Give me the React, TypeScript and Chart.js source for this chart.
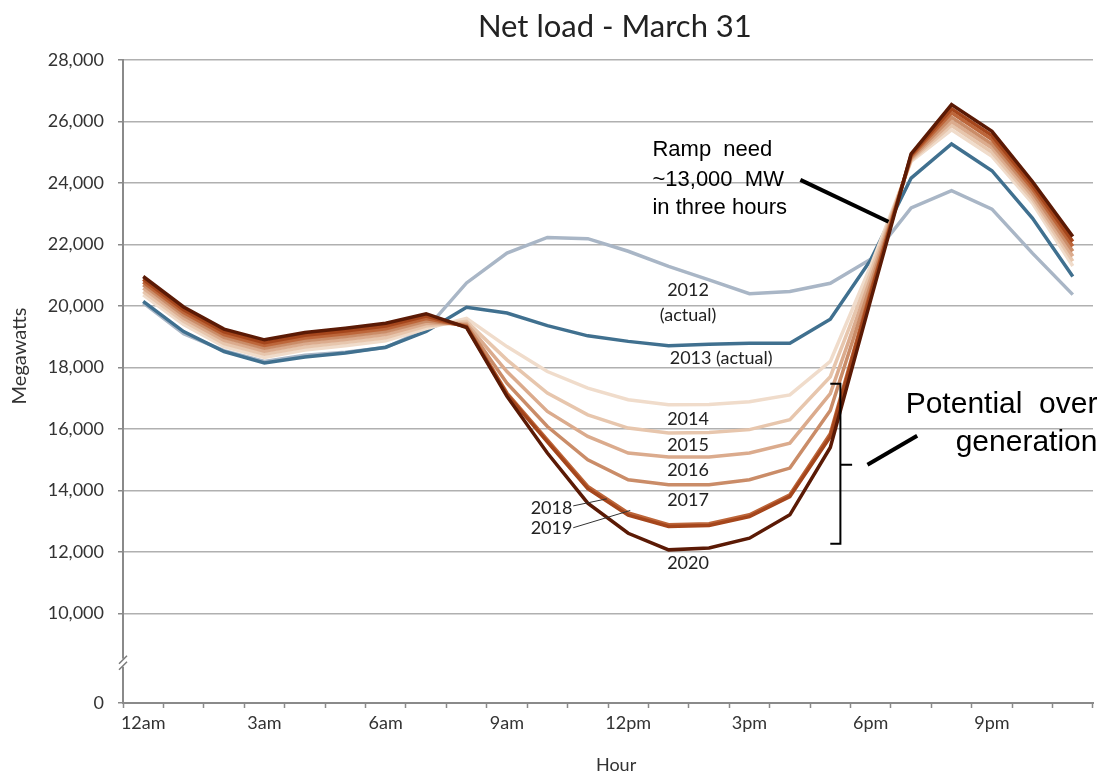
import React, { useEffect, useRef } from 'react';
import { Chart, registerables } from 'chart.js';

Chart.register(...registerables);

// ---------- data ----------
const HOURS = [
  '12am', '1am', '2am', '3am', '4am', '5am', '6am', '7am', '8am', '9am', '10am', '11am',
  '12pm', '1pm', '2pm', '3pm', '4pm', '5pm', '6pm', '7pm', '8pm', '9pm', '10pm', '11pm',
];
const Y_TICK_VALUES = [0, 10000, 12000, 14000, 16000, 18000, 20000, 22000, 24000, 26000, 28000];
const Y_FLOOR = 7090; // axis is broken: "0" is shown at this position
const Y_MAX = 28000;

const LOAD_2012 = [20100, 19100, 18550, 18200, 18400, 18500, 18650, 19250, 20750, 21720, 22230, 22190,
  21780, 21290, 20850, 20400, 20470, 20740, 21520, 23190, 23750, 23150, 21720, 20370];
const LOAD_2013 = [20150, 19170, 18520, 18150, 18340, 18470, 18660, 19170, 19960, 19770, 19360, 19030,
  18850, 18710, 18760, 18790, 18790, 19570, 21500, 24160, 25270, 24400, 22860, 20960];
const LOAD_2014 = [20360, 19400, 18680, 18330, 18570, 18710, 18870, 19270, 19600, 18680, 17870, 17330,
  16950, 16790, 16800, 16890, 17110, 18200, 21300, 24700, 25730, 24870, 23350, 21300];
const LOAD_2015 = [20470, 19500, 18780, 18430, 18670, 18810, 18970, 19350, 19500, 18250, 17170, 16460,
  16030, 15870, 15890, 15980, 16300, 17700, 21100, 24740, 25870, 25000, 23470, 21460];
const LOAD_2016 = [20580, 19600, 18880, 18530, 18770, 18910, 19070, 19430, 19430, 17870, 16570, 15760,
  15220, 15090, 15090, 15220, 15540, 17150, 20900, 24780, 26000, 25140, 23580, 21620];
const LOAD_2017 = [20690, 19700, 18980, 18630, 18870, 19010, 19170, 19510, 19380, 17490, 16080, 15000,
  14350, 14190, 14190, 14350, 14730, 16600, 20700, 24820, 26140, 25270, 23700, 21780];
const LOAD_2018 = [20780, 19790, 19070, 18720, 18960, 19100, 19260, 19590, 19340, 17170, 15650, 14130,
  13270, 12890, 12920, 13210, 13860, 15850, 20500, 24870, 26280, 25410, 23820, 21940];
const LOAD_2019 = [20870, 19880, 19160, 18810, 19050, 19190, 19350, 19670, 19320, 17120, 15580, 14060,
  13200, 12830, 12860, 13150, 13800, 15750, 20400, 24910, 26410, 25540, 23930, 22100];
const LOAD_2020 = [20960, 19970, 19250, 18900, 19140, 19280, 19440, 19750, 19300, 17060, 15220, 13590,
  12610, 12070, 12130, 12450, 13210, 15400, 20200, 24950, 26550, 25680, 24050, 22260];

const SERIES_NAMES = ['2012', '2013', '2014', '2015', '2016', '2017', '2018', '2019', '2020'];
const SERIES_VALUES = [LOAD_2012, LOAD_2013, LOAD_2014, LOAD_2015, LOAD_2016, LOAD_2017, LOAD_2018, LOAD_2019, LOAD_2020];
const SERIES_COLORS = ['#a9b6c6', '#40708f', '#f0dccb', '#e7c6ad', '#dbab8d', '#ca8c68', '#bd663a', '#a5461c', '#5b1a05'];

// ---------- annotations (hour index, MW) ----------
const YEAR_LABELS: { text: string; h: number; v: number; align: CanvasTextAlign }[] = [
  { text: '2012', h: 13.48, v: 20530, align: 'center' },
  { text: '(actual)', h: 13.48, v: 19690, align: 'center' },
  { text: '2013 (actual)', h: 14.3, v: 18290, align: 'center' },
  { text: '2014', h: 13.48, v: 16330, align: 'center' },
  { text: '2015', h: 13.48, v: 15490, align: 'center' },
  { text: '2016', h: 13.48, v: 14670, align: 'center' },
  { text: '2017', h: 13.48, v: 13700, align: 'center' },
  { text: '2018', h: 10.62, v: 13440, align: 'right' },
  { text: '2019', h: 10.62, v: 12760, align: 'right' },
  { text: '2020', h: 13.48, v: 11650, align: 'center' },
];
const THIN_LEADERS = [
  { h1: 10.64, v1: 13500, h2: 11.47, v2: 13730 },
  { h1: 10.64, v1: 12790, h2: 12.05, v2: 13350 },
];

const FONT = 'Lato, "Noto Sans", sans-serif';
const ARIAL = '"Liberation Sans", Arial, sans-serif';

const annotationPlugin = {
  id: 'duckAnnotations',
  afterDraw(chart: any) {
    const ctx: CanvasRenderingContext2D = chart.ctx;
    const xs = chart.scales.x;
    const ys = chart.scales.y;
    const area = chart.chartArea;
    const X = (h: number) => xs.getPixelForValue(h);
    const Y = (v: number) => ys.getPixelForValue(v);
    ctx.save();

    // title
    ctx.fillStyle = '#222';
    ctx.font = `31px ${FONT}`;
    ctx.textAlign = 'center';
    ctx.textBaseline = 'middle';
    ctx.fillText('Net load - March 31', X(11.67), 27);

    // axis titles
    ctx.font = `18px ${FONT}`;
    ctx.fillStyle = '#333';
    ctx.fillText('Hour', X(11.7), 765);
    ctx.save();
    ctx.translate(20, 356);
    ctx.rotate(-Math.PI / 2);
    ctx.font = `20px ${FONT}`;
    ctx.fillText('Megawatts', 0, 0);
    ctx.restore();

    // axis break
    const yb = Y(8400);
    const xb = area.left;
    ctx.fillStyle = '#fff';
    ctx.fillRect(xb - 3, yb - 4, 6, 8);
    ctx.strokeStyle = '#7a7a7a';
    ctx.lineWidth = 1.5;
    ctx.beginPath();
    ctx.moveTo(xb - 4, yb + 1);
    ctx.lineTo(xb + 4, yb - 7);
    ctx.moveTo(xb - 4, yb + 7);
    ctx.lineTo(xb + 4, yb - 1);
    ctx.stroke();

    // year labels
    ctx.fillStyle = '#222';
    ctx.font = `18px ${FONT}`;
    ctx.textBaseline = 'middle';
    for (const l of YEAR_LABELS) {
      ctx.textAlign = l.align;
      ctx.fillText(l.text, X(l.h), Y(l.v));
    }
    ctx.strokeStyle = '#333';
    ctx.lineWidth = 1;
    for (const s of THIN_LEADERS) {
      ctx.beginPath();
      ctx.moveTo(X(s.h1), Y(s.v1));
      ctx.lineTo(X(s.h2), Y(s.v2));
      ctx.stroke();
    }

    // ramp annotation
    ctx.fillStyle = '#000';
    ctx.font = `22px ${ARIAL}`;
    ctx.textAlign = 'left';
    ctx.fillText('Ramp  need', X(12.6), Y(25080));
    ctx.fillText('~13,000  MW', X(12.6), Y(24100));
    ctx.fillText('in three hours', X(12.6), Y(23190));
    ctx.strokeStyle = '#000';
    ctx.lineWidth = 4;
    ctx.beginPath();
    ctx.moveTo(X(16.26), Y(24100));
    ctx.lineTo(X(18.44), Y(22740));
    ctx.stroke();

    // over-generation annotation
    ctx.font = `30px ${ARIAL}`;
    ctx.textAlign = 'right';
    ctx.fillText('Potential  over', X(23.61), Y(16790));
    ctx.fillText('generation', X(23.61), Y(15550));
    ctx.beginPath();
    ctx.moveTo(X(17.92), Y(14840));
    ctx.lineTo(X(19.15), Y(15780));
    ctx.stroke();

    // bracket
    ctx.lineWidth = 2;
    ctx.beginPath();
    ctx.moveTo(X(17.0), Y(17470));
    ctx.lineTo(X(17.25), Y(17470));
    ctx.lineTo(X(17.25), Y(12270));
    ctx.lineTo(X(17.0), Y(12270));
    ctx.moveTo(X(17.25), Y(14840));
    ctx.lineTo(X(17.54), Y(14840));
    ctx.stroke();

    ctx.restore();
  },
};

export default function App() {
  const ref = useRef<HTMLCanvasElement | null>(null);
  useEffect(() => {
    if (!ref.current) return;
    const chart = new Chart(ref.current, {
      type: 'line',
      data: {
        labels: HOURS,
        datasets: SERIES_NAMES.map((name, i) => ({
          label: name,
          data: SERIES_VALUES[i],
          borderColor: SERIES_COLORS[i],
          backgroundColor: SERIES_COLORS[i],
          borderWidth: 3.5,
          pointRadius: 0,
          tension: 0,
          fill: false,
          order: SERIES_NAMES.length - i,
        })),
      },
      options: {
        responsive: false,
        animation: false,
        maintainAspectRatio: false,
        layout: { padding: { left: 0, top: 60, right: 5, bottom: 0 } },
        plugins: { legend: { display: false }, title: { display: false }, tooltip: { enabled: false } },
        scales: {
          x: {
            type: 'category',
            offset: true,
            grid: {
              offset: true,
              drawOnChartArea: false,
              drawTicks: true,
              tickLength: 5,
              tickColor: '#8a8a8a',
              tickWidth: 1.5,
            },
            border: { display: true, color: '#8a8a8a', width: 2 },
            ticks: {
              autoSkip: false,
              maxRotation: 0,
              padding: 4,
              color: '#333',
              font: { family: FONT, size: 18 },
              callback: (_v: any, i: number) => (i % 3 === 0 ? HOURS[i] : ''),
            },
            afterFit: (scale: any) => { scale.height = 74; },
          },
          y: {
            type: 'linear',
            min: Y_FLOOR,
            max: Y_MAX,
            afterBuildTicks: (scale: any) => {
              scale.ticks = Y_TICK_VALUES.map((v) => ({ value: v === 0 ? Y_FLOOR : v }));
            },
            grid: {
              color: (c: any) => (c.tick && c.tick.value === Y_FLOOR ? 'rgba(0,0,0,0)' : '#b0b0b0'),
              lineWidth: 1.5,
              tickLength: 5,
              tickColor: '#8a8a8a',
            },
            border: { display: true, color: '#8a8a8a', width: 2 },
            ticks: {
              padding: 14,
              color: '#333',
              font: { family: FONT, size: 18 },
              callback: (v: any) => (v === Y_FLOOR ? '0' : Number(v).toLocaleString('en-US')),
            },
            afterFit: (scale: any) => { scale.width = 123; },
          },
        },
      },
      plugins: [annotationPlugin],
    });
    return () => chart.destroy();
  }, []);
  return (
    <div style={{ position: 'fixed', left: 0, top: 0, width: 1098, height: 777, background: '#fff' }}>
      <canvas ref={ref} width={1098} height={777} style={{ width: 1098, height: 777 }} />
    </div>
  );
}
